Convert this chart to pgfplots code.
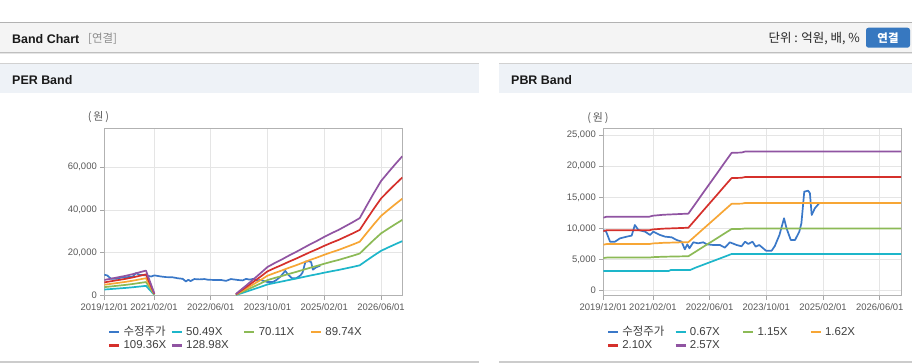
\documentclass[border=0pt]{standalone}
\usepackage{pgfplots}
\pgfplotsset{compat=1.18}
\usepackage{fontspec}
\setmainfont{Liberation Sans}
\newfontfamily\kr{Noto Sans CJK KR}
\definecolor{cPrice}{HTML}{3A78C8}
\definecolor{cCyan}{HTML}{1DB6CA}
\definecolor{cGreen}{HTML}{8CBA56}
\definecolor{cOrange}{HTML}{F7A635}
\definecolor{cRed}{HTML}{D5302B}
\definecolor{cPurple}{HTML}{9054A2}
\definecolor{hdrbg}{HTML}{F4F4F4}
\definecolor{panelbg}{HTML}{EEF2F7}
\definecolor{btnblue}{HTML}{3778C0}
\pgfplotsset{
  bandax/.style={
    scale only axis, width=298bp, height=167.4bp, xmin=0, xmax=84,
    scaled y ticks=false, scaled x ticks=false,
    axis line style={draw=black!30, line width=0.8bp},
    grid=major, grid style={draw=black!10, line width=0.8bp},
    tick align=outside, major tick length=4bp,
    tick style={draw=black!35, line width=0.8bp}, tick pos=left,
    xtick={0,14,30,46,62,78},
    xticklabels={2019/12/01,2021/02/01,2022/06/01,2023/10/01,2025/02/01,2026/06/01},
    ticklabel style={font=\fontsize{9.5}{10}\selectfont, text=black!65},
    every axis plot/.append style={line width=1.7bp, line join=round},
    unbounded coords=jump,
    legend columns=4, legend cell align=left,
    legend image code/.code={\draw[##1, line width=2.6bp] (0bp,0bp) -- (10bp,0bp);},
    legend style={anchor=north west, draw=none, fill=none, inner sep=0pt, outer sep=0pt,
      font=\fontsize{11.5}{13}\selectfont, text=black!75, row sep=3.3bp,
      nodes={inner sep=0pt, text height=8bp, text depth=2bp},
      /tikz/every odd column/.append style={column sep=3bp}},
  }
}
\pgfplotstableread{
m v
0 9760
0.8 9500
1.9 7880
3.3 7880
4.7 8420
6.6 8690
8 8850
8.9 10560
9.9 9760
11.8 9490
13.2 8960
14.1 9490
16 8960
17.4 8690
19.3 8580
20.7 8150
22.1 7880
23 6650
23.7 7460
24.3 6820
25.4 7780
26.8 7620
28.2 7780
29.2 7460
31 7350
32.9 7350
34.3 6920
35.7 7780
37.6 7350
39 7140
40 7880
40.9 7510
42.1 7880
43 7080
44 7350
45.1 6820
45.9 6430
47.5 6430
48.4 7190
49.7 8960
51 11640
51.7 10030
52.9 8150
54.1 8150
55.3 9490
55.9 10840
56.7 15920
57.8 16080
58.3 15660
58.8 12170
59.7 13250
60.9 14050
}\price
\pgfplotstableread{
m c g o r p
0 2878 3996 5115 6234 7352
2 3130 4347 5564 6780 7997
4 3383 4697 6013 7327 8642
6 3635 5048 6461 7874 9287
8 3938 5469 7000 8530 10060
10 4292 5959 7628 9296 10963
11.75 4595 6380 8166 9952 11737
14.1 404 561 718 875 1032
25 nan nan nan nan nan
37.1 303 421 538 656 774
38 808 1122 1436 1750 2064
40 1868 2594 3320 4046 4772
42 2979 4136 5295 6452 7610
44 4090 5679 7269 8858 10447
46 5251 7291 9333 11373 13414
48 5958 8273 10589 12904 15220
50 6614 9184 11756 14326 16896
52 7321 10166 13012 15857 18702
54 7977 11077 14179 17279 20379
56 8684 12059 15435 18810 22185
58 9391 13040 16692 20341 23990
60 10048 13952 17858 21763 25667
62 10754 14933 19115 23294 27473
64 11411 15845 20281 24715 29149
66 12017 16686 21358 26028 30697
68 12723 17668 22614 27559 32503
70 13430 18649 23871 29090 34309
72 14188 19701 25217 30730 36243
74 16510 22926 29345 35761 42176
76 18782 26081 33383 40682 47981
78 20953 29096 37242 45384 53527
80 22519 31269 40024 48775 57525
82 24033 33372 42716 52055 61394
84 25497 35406 45319 55227 65135
}\perband
\pgfplotstableread{
m g o r p
0 5253 7400 9593 11740
1 5325 7501 9723 11899
13 5325 7501 9723 11899
14 5394 7598 9849 12053
17 5463 7695 9975 12208
24 5543 7808 10122 12387
26 6256 8813 11424 13981
28 6981 9833 12747 15600
30 7694 10838 14049 17193
32 8407 11842 15351 18787
34 9131 12863 16674 20406
36.2 9913 13964 18102 22153
39 9936 13997 18144 22205
40 10005 14094 18270 22359
84 10005 14094 18270 22359
}\pbrband
\pgfplotstableread{
m c
0 3170
18.5 3170
19 3330
24.5 3330
26 3700
28 4130
30 4560
32 4990
34 5420
36.2 5900
84 5900
}\pbrcyan
\begin{document}
\begin{tikzpicture}
\useasboundingbox (0,0) rectangle (912bp,364bp);
\fill[white] (0,0) rectangle (912bp,364bp);
\begin{scope}[x=1bp,y=1bp]
  % header bar
  \fill[hdrbg] (0,311.5) rectangle (912,341.5);
  \draw[black!30, line width=1bp] (0,341.5) -- (912,341.5);
  \draw[black!25, line width=1bp] (0,311.5) -- (912,311.5);
  \draw[black!10, line width=1bp] (0,310.5) -- (912,310.5);
  \node[anchor=west, inner sep=0pt, font=\fontsize{12.5}{14}\selectfont\bfseries, text=black!90] at (12,325) {Band Chart};
  \node[anchor=west, inner sep=0pt, font=\kr\fontsize{11.5}{13}\selectfont, text=black!45] at (88,325) {[연결]};
  \node[anchor=east, inner sep=0pt, font=\kr\fontsize{12.5}{14}\selectfont, text=black!85] at (860,325) {단위 : 억원, 배, \%};
  \fill[btnblue, rounded corners=2.5bp] (866,316.3) rectangle (910,336.3);
  \node[inner sep=0pt, font=\kr\fontsize{11.5}{13}\selectfont\bfseries, text=white] at (888,326.3) {연결};
  % panel title bars
  \fill[panelbg] (0,271) rectangle (479,300.5);
  \fill[panelbg] (499,271) rectangle (912,300.5);
  \draw[black!18, line width=1.5bp] (0,300.5) -- (479,300.5);
  \draw[black!18, line width=1.5bp] (499,300.5) -- (912,300.5);
  \node[anchor=west, inner sep=0pt, font=\fontsize{12.5}{14}\selectfont\bfseries, text=black!90] at (12,284) {PER Band};
  \node[anchor=west, inner sep=0pt, font=\fontsize{12.5}{14}\selectfont\bfseries, text=black!90] at (511,284) {PBR Band};
  % bottom borders
  \draw[black!20, line width=1.5bp] (0,2) -- (479,2);
  \draw[black!20, line width=1.5bp] (499,2) -- (912,2);
  % unit labels
  \node[inner sep=0pt, font=\kr\fontsize{11}{12}\selectfont, text=black!65] at (98.5,247) {(\,원\,)};
  \node[inner sep=0pt, font=\kr\fontsize{11}{12}\selectfont, text=black!65] at (598,245.7) {(\,원\,)};
\end{scope}

\begin{axis}[bandax, at={(104.3bp,68.3bp)}, anchor=south west,
  ymin=0, ymax=78200, ytick={0,20000,40000,60000},
  yticklabels={0,{20,000},{40,000},{60,000}},
  legend style={at={(0.0124,-0.188)}}]
  \addplot[cPrice] table[x=m,y=v] {\price};
  \addlegendentry{\makebox[47bp][l]{\kr 수정주가}}
  \addplot[cCyan] table[x=m,y=c] {\perband};
  \addlegendentry{\makebox[57bp][l]{50.49X}}
  \addplot[cGreen] table[x=m,y=g] {\perband};
  \addlegendentry{\makebox[51bp][l]{70.11X}}
  \addplot[cOrange] table[x=m,y=o] {\perband};
  \addlegendentry{\makebox[40bp][l]{89.74X}}
  \addplot[cRed] table[x=m,y=r] {\perband};
  \addlegendentry{\makebox[47bp][l]{109.36X}}
  \addplot[cPurple] table[x=m,y=p] {\perband};
  \addlegendentry{\makebox[57bp][l]{128.98X}}
\end{axis}

\begin{axis}[bandax, at={(603.3bp,68.3bp)}, anchor=south west, width=297.7bp,
  ymin=-800, ymax=26100, ytick={0,5000,10000,15000,20000,25000},
  yticklabels={0,{5,000},{10,000},{15,000},{20,000},{25,000}},
  legend style={at={(0.0114,-0.188)}}]
  \addplot[cPrice] table[x=m,y=v] {\price};
  \addlegendentry{\makebox[52bp][l]{\kr 수정주가}}
  \addplot[cCyan] table[x=m,y=c] {\pbrcyan};
  \addlegendentry{\makebox[52bp][l]{0.67X}}
  \addplot[cGreen] table[x=m,y=g] {\pbrband};
  \addlegendentry{\makebox[52bp][l]{1.15X}}
  \addplot[cOrange] table[x=m,y=o] {\pbrband};
  \addlegendentry{\makebox[52bp][l]{1.62X}}
  \addplot[cRed] table[x=m,y=r] {\pbrband};
  \addlegendentry{\makebox[52bp][l]{2.10X}}
  \addplot[cPurple] table[x=m,y=p] {\pbrband};
  \addlegendentry{\makebox[52bp][l]{2.57X}}
\end{axis}
\end{tikzpicture}
\end{document}
